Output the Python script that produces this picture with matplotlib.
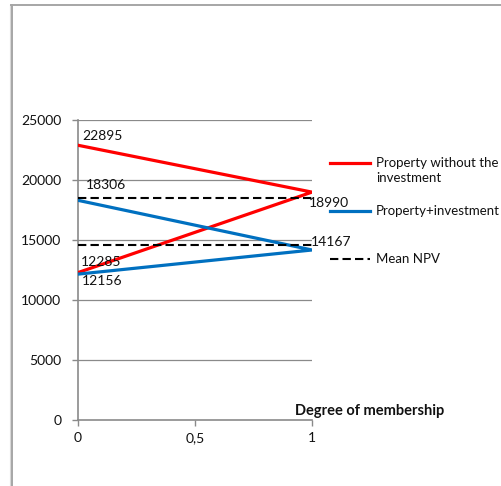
import numpy as np
import matplotlib
matplotlib.use("Agg")
import matplotlib.pyplot as plt
from matplotlib.lines import Line2D

plt.rcParams['font.family'] = ['Lato', 'DejaVu Sans']

# membership degree vs NPV, each series goes 0 -> 1 -> 0
membership = [0, 1, 0]
no_invest = [12285, 18990, 22895]
with_invest = [12156, 14167, 18306]
mean_npv = [18470, 14580]

labels = ["Property without the\ninvestment", "Property+investment", "Mean NPV"]
yticks = [0, 5000, 10000, 15000, 20000, 25000]
xticks = [0, 0.5, 1]
xticklabels = ["0", "0,5", "1"]

red = "#ff0000"
blue = "#0070c0"
grey = "#8a8a8a"
W, H = 502, 486

fig = plt.figure(figsize=(W / 100, H / 100), dpi=100)
ax = fig.add_axes([78 / W, 1 - 420 / H, (312 - 78) / W, 300 / H])

for v in yticks[1:]:
    ax.axhline(v, color=grey, lw=0.9, zorder=1)

l_red, = ax.plot(membership, no_invest, color=red, lw=2.3, zorder=3)
l_blue, = ax.plot(membership, with_invest, color=blue, lw=2.3, zorder=3)
for m in mean_npv:
    l_mean, = ax.plot([0, 1], [m, m], color="black", lw=1.5,
                      dashes=(4, 2), zorder=4)

# data labels with pixel offsets
lab_pts = [
    (0, no_invest[2], 4, 9),
    (0, with_invest[2], 8, 15),
    (0, no_invest[0], 3, 10.5),
    (0, with_invest[0], 4, -6.5),
    (1, no_invest[1], -3, -11),
    (1, with_invest[1], -1, 7.5),
]
for x, y, dx, dy in lab_pts:
    ax.annotate(str(y), (x, y), xytext=(dx, dy), textcoords="offset pixels",
                ha="left", va="center", fontsize=10, color="#111111", zorder=5)

ax.set_xlim(0, 1)
ax.set_ylim(0, 25000)
ax.set_yticks(yticks)
ax.set_xticks(xticks)
ax.set_xticklabels(xticklabels)
for s in ["top", "right"]:
    ax.spines[s].set_visible(False)
for s in ["left", "bottom"]:
    ax.spines[s].set_color(grey)
    ax.spines[s].set_linewidth(1.2)
ax.tick_params(axis="both", colors=grey, labelcolor="#111111", labelsize=10,
               length=4, width=1)
ax.tick_params(axis="y", pad=8)
ax.tick_params(axis="x", pad=5)
ax.patch.set_alpha(0)

fig.text(295 / W, 1 - 411 / H, "Degree of membership", fontsize=10.5,
         fontweight="bold", va="center", ha="left", color="#111111")

# legend drawn by hand so the handle sits on the first text line
leg = [(163, l_red), (211, l_blue), (259, l_mean)]
for (py, ln), lab in zip(leg, labels):
    y = 1 - py / H
    fig.add_artist(Line2D([330 / W, 370 / W], [y, y], color=ln.get_color(),
                          lw=ln.get_linewidth(), linestyle=ln.get_linestyle(),
                          dashes=(4, 2) if ln is l_mean else (None, None)))
    fig.text(376 / W, y + 6 / H, lab, fontsize=9.5, va="top", ha="left",
             color="#111111", linespacing=1.3)

# outer chart frame
fig.add_artist(Line2D([9.5 / W, 9.5 / W], [0, 1 - 5 / H], color="#d8d8d8", lw=0.8))
fig.add_artist(Line2D([12 / W, 12 / W], [0, 1 - 5 / H], color="#a6a6a6", lw=1.4))
fig.add_artist(Line2D([11 / W, 1], [1 - 5.5 / H, 1 - 5.5 / H], color="#a6a6a6", lw=1.4))

fig.savefig("out.png", dpi=100)
